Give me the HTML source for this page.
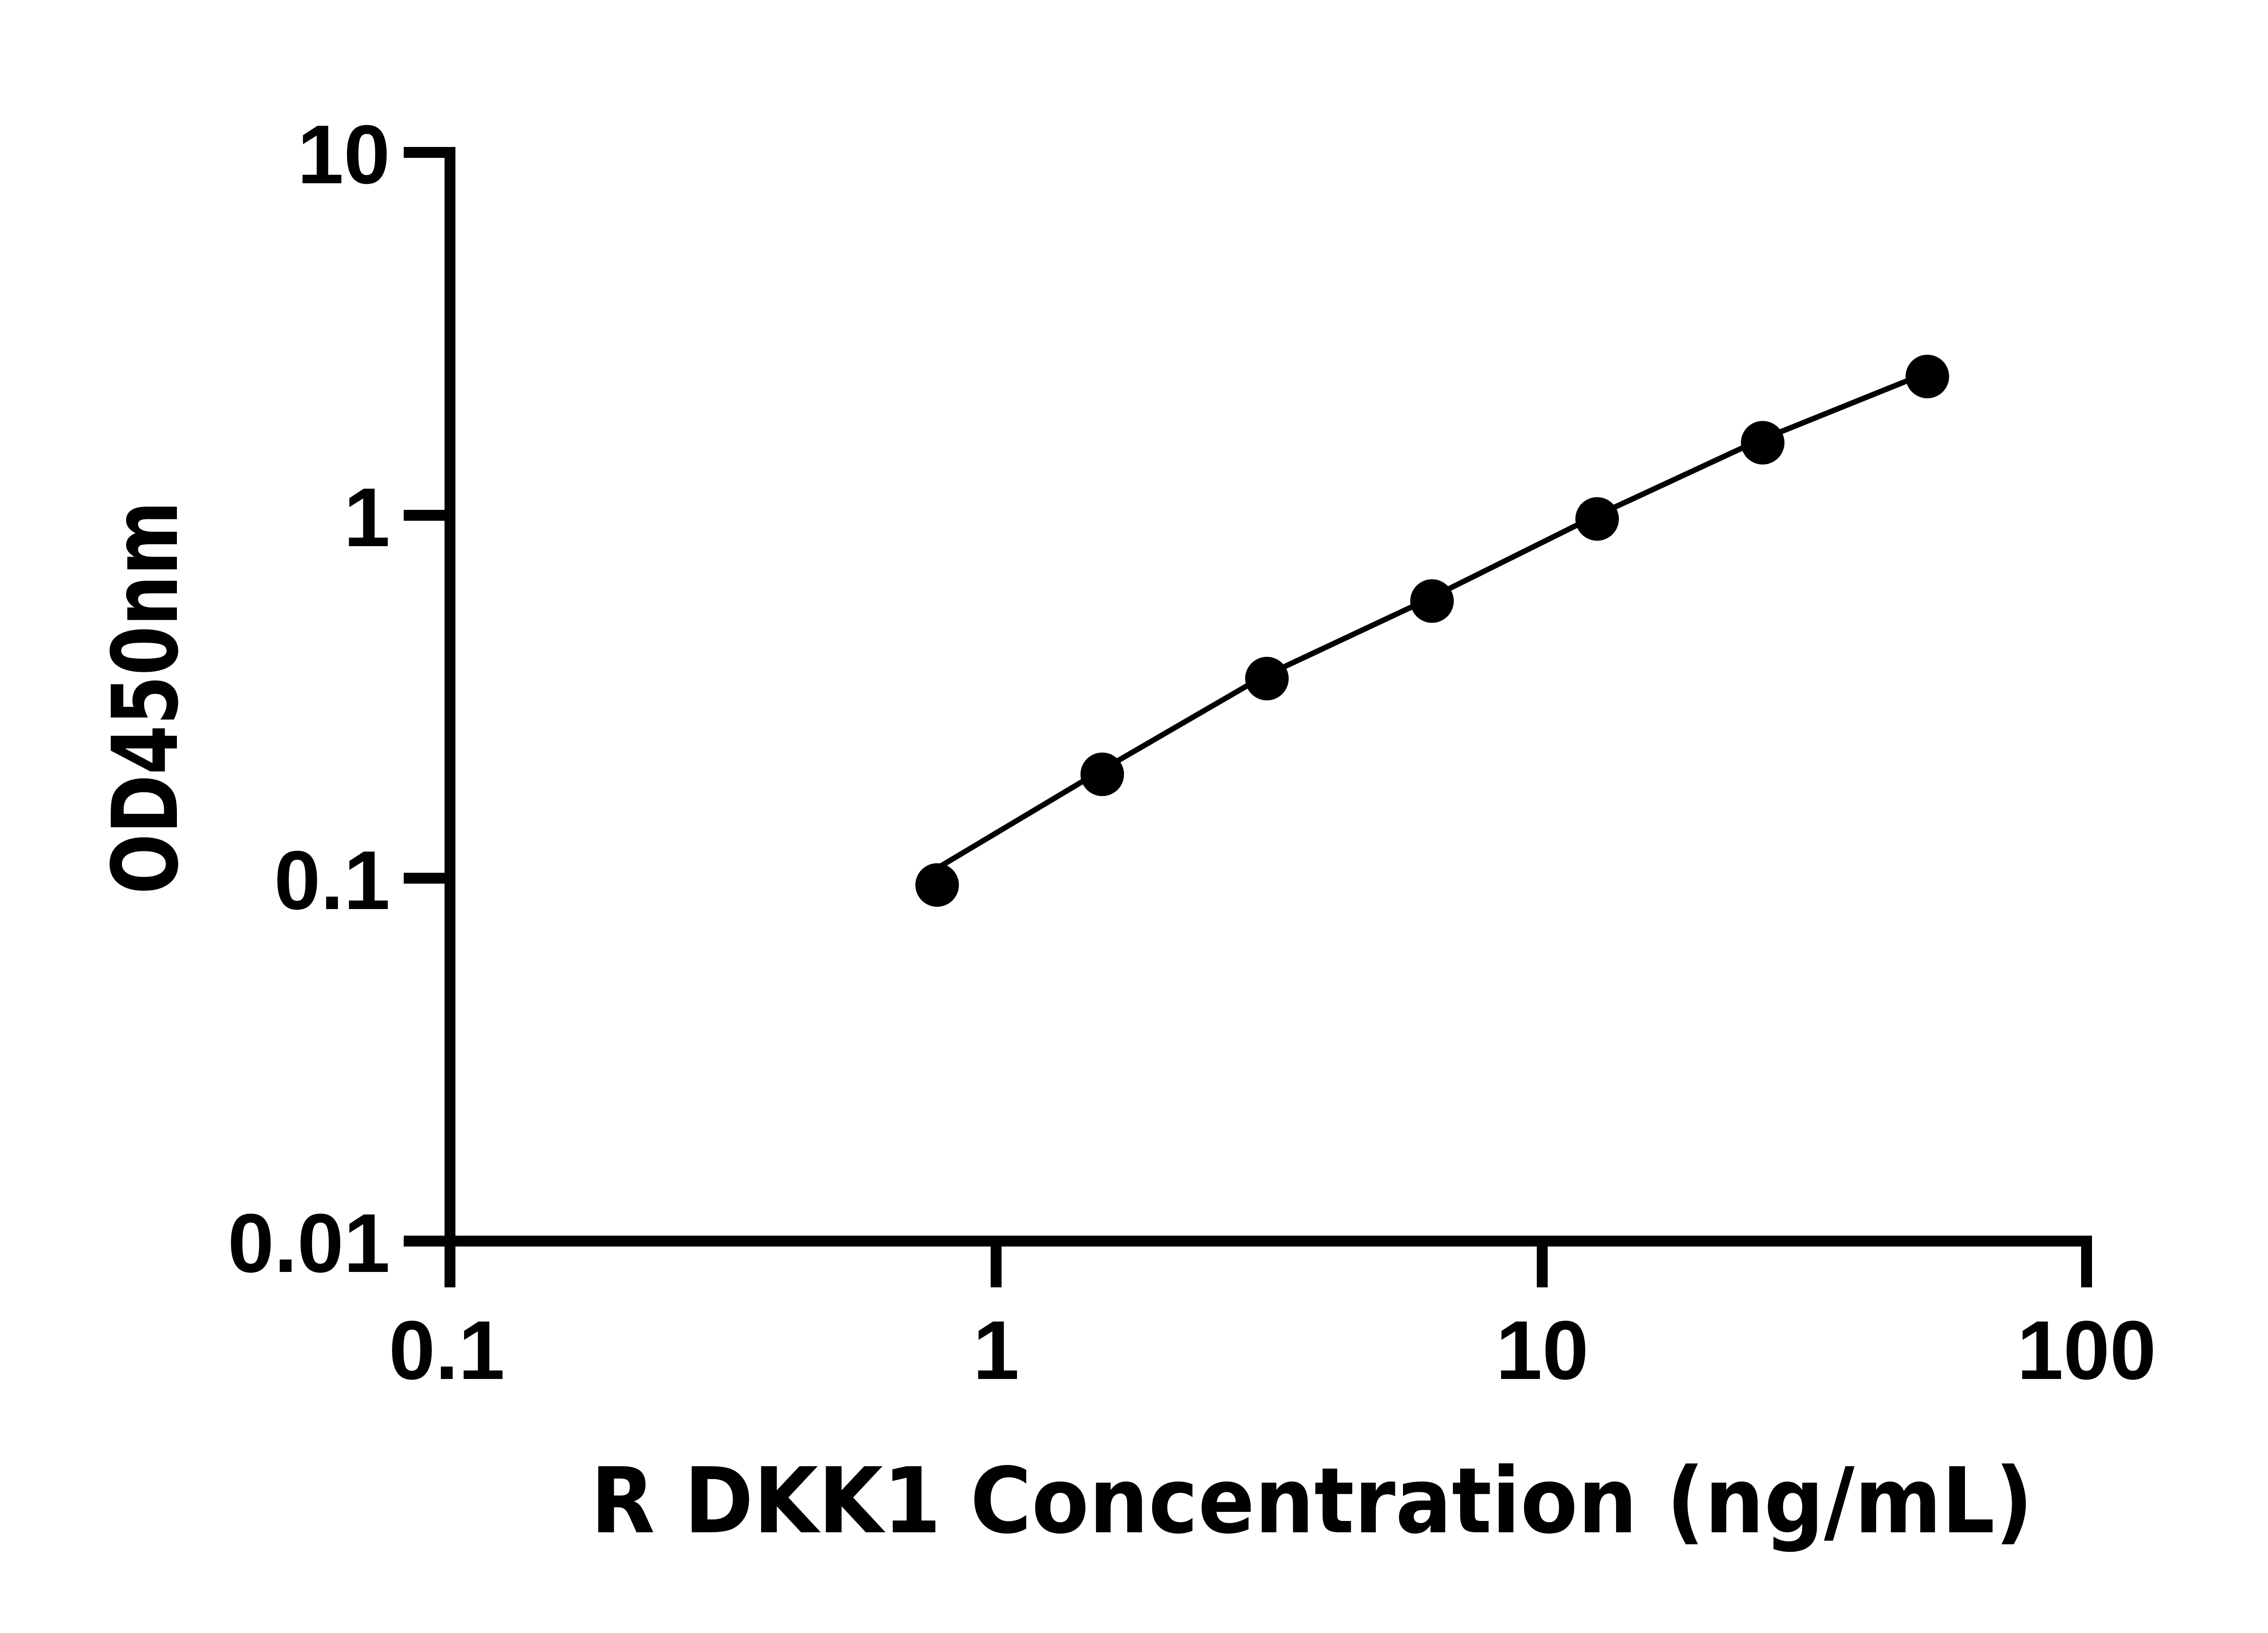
<!DOCTYPE html>
<html><head><style>html,body{margin:0;padding:0;background:#fff}svg{display:block}
.t{font-family:"Liberation Sans",Arial,sans-serif;font-weight:bold;font-size:184px}
.l{font-family:"DejaVu Sans","Liberation Sans",sans-serif;font-weight:bold;font-size:200px}
</style></head>
<body>
<svg width="5142" height="3600" viewBox="0 0 5142 3600" xmlns="http://www.w3.org/2000/svg">
<g stroke="#000" stroke-width="24" fill="none" stroke-linecap="butt">
<line x1="992" y1="324" x2="992" y2="2838"/>
<line x1="980" y1="2736" x2="4612" y2="2736"/>
<line x1="890" y1="336" x2="1004" y2="336"/>
<line x1="890" y1="1136" x2="1004" y2="1136"/>
<line x1="890" y1="1936" x2="1004" y2="1936"/>
<line x1="890" y1="2736" x2="1004" y2="2736"/>
<line x1="2196" y1="2724" x2="2196" y2="2838"/>
<line x1="3400" y1="2724" x2="3400" y2="2838"/>
<line x1="4600" y1="2724" x2="4600" y2="2838"/>
</g>
<polyline fill="none" stroke="#000" stroke-width="12" points="2056,1920 2418,1704 2780,1494 3142,1324 3504,1144 3866,976 4228,830"/>
<g fill="#000">
<ellipse cx="2066" cy="1951" rx="48" ry="48"/>
<ellipse cx="2430" cy="1707" rx="48" ry="48"/>
<ellipse cx="2793" cy="1496" rx="48" ry="48"/>
<ellipse cx="3157" cy="1325" rx="48" ry="48"/>
<ellipse cx="3521" cy="1144" rx="48" ry="48"/>
<ellipse cx="3886" cy="976" rx="48" ry="48"/>
<ellipse cx="4249" cy="830" rx="48" ry="48"/>
</g>
<g class="t" fill="#000">
<text x="860" y="404" text-anchor="end">10</text>
<text x="860" y="1204" text-anchor="end">1</text>
<text x="860" y="2004" text-anchor="end">0.1</text>
<text x="860" y="2804" text-anchor="end">0.01</text>
<text x="985" y="3040" text-anchor="middle">0.1</text>
<text x="2196" y="3040" text-anchor="middle">1</text>
<text x="3400" y="3040" text-anchor="middle">10</text>
<text x="4600" y="3040" text-anchor="middle">100</text>
</g>
<text class="l" x="1302" y="3378" textLength="3180" lengthAdjust="spacingAndGlyphs">R DKK1 Concentration (ng/mL)</text>
<text class="l" transform="translate(390,1538) rotate(-90)" text-anchor="middle" textLength="867" lengthAdjust="spacingAndGlyphs">OD450nm</text>
</svg>
</body></html>
